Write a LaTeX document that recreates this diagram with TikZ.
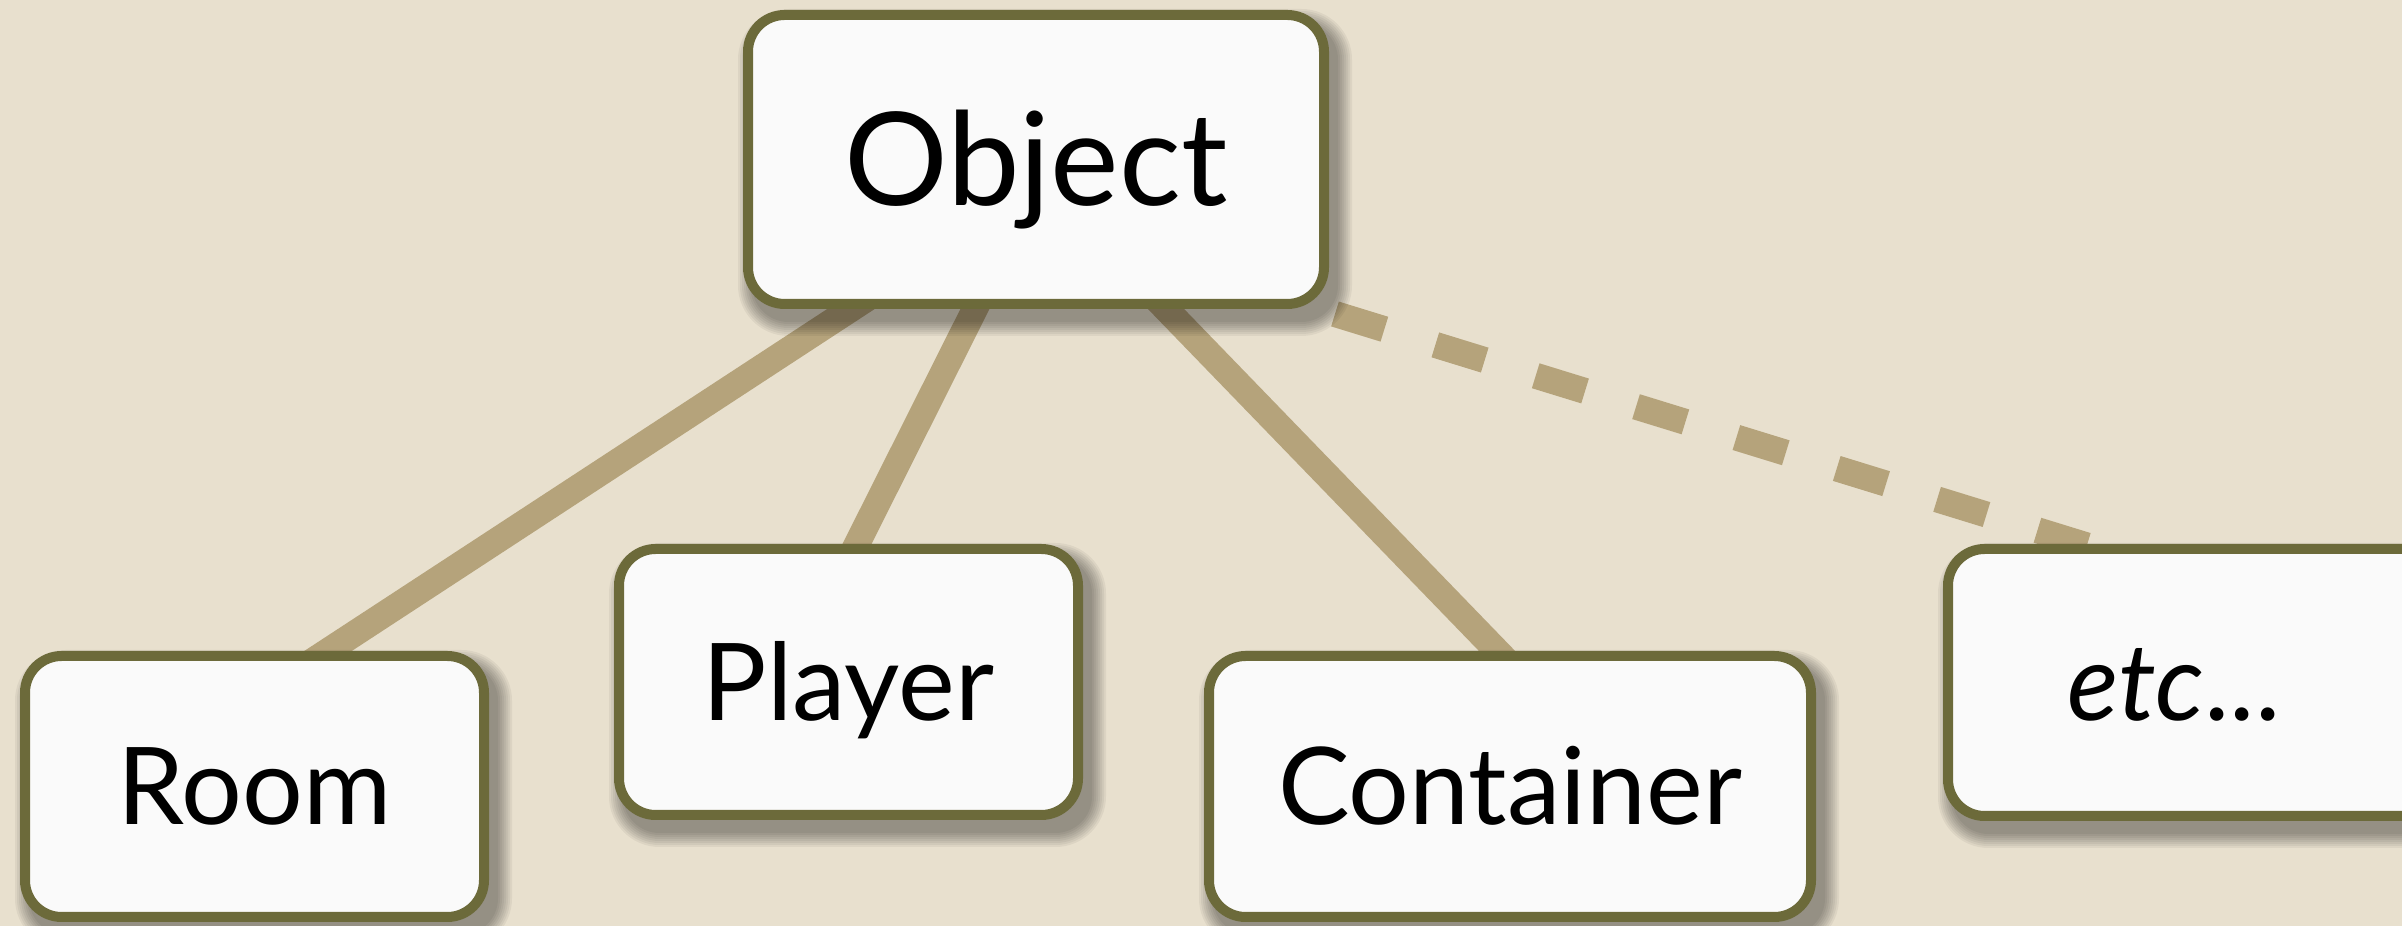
\documentclass[tikz,border=0pt]{standalone}
\usepackage{fontspec}
\setmainfont{Lato}
\usetikzlibrary{calc}
\definecolor{bgc}{RGB}{232,224,206}
\definecolor{olivec}{RGB}{108,106,58}
\definecolor{boxfillc}{RGB}{250,250,250}
\definecolor{linkc}{RGB}{181,163,123}
\pgfdeclarelayer{bg}
\pgfdeclarelayer{lines}
\pgfdeclarelayer{shade}
\pgfsetlayers{bg,lines,shade,main}
\begin{document}
\begin{tikzpicture}[x=0.3pt,y=-0.3pt,
  classbox/.style={draw=olivec, line width=3pt, fill=boxfillc, rounded corners=11pt,
    inner sep=0pt, text height=23.1pt, text depth=0pt,
    font=\fontsize{32.2pt}{36pt}\selectfont},
  shadowstep/.style={fill=black, fill opacity=0.05, draw=none},
  connector/.style={draw=linkc, line width=7.8pt},
  dashconnector/.style={connector, dash pattern=on 15.5pt off 16pt}]
\useasboundingbox (0,0) rectangle (2402,926);
\begin{pgfonlayer}{bg}
  \fill[bgc] (0,0) rectangle (2402,926);
\end{pgfonlayer}

\node[classbox, minimum width=172.8pt, minimum height=86.7pt, text height=27.9pt,
      font=\fontsize{38.9pt}{42pt}\selectfont] (obj) at (1036,159.5) {Object};
\node[classbox, minimum width=137.7pt, minimum height=78.3pt] (room) at (254.5,786.5) {Room};
\node[classbox, minimum width=137.7pt, minimum height=79.8pt] (player) at (848.5,682) {Player};
\node[classbox, minimum width=180.6pt, minimum height=78.3pt] (cont) at (1510,786.5) {Container};
\node[classbox, minimum width=147.6pt, minimum height=80.1pt] (etc) at (2194,682.5) {\kern-12pt\textit{etc}...};

\begin{pgfonlayer}{shade}
  \foreach \n in {obj,room,player,cont,etc} {
    \foreach \e in {0,2,4,6,8,10,12,14} {
      \fill[shadowstep, rounded corners={11pt+0.3pt*\e}]
        ($(\n.north west)+(9-\e,13-\e)$) rectangle ($(\n.south east)+(9+\e,13+\e)$);
    }
  }
\end{pgfonlayer}

\begin{pgfonlayer}{lines}
  \draw[connector] ($(obj.center)+(43.6,0)$) -- ($(room.center)+(-133.7,0)$);
  \draw[connector] ($(obj.center)+(14,0)$) -- ($(player.center)+(-60.8,0)$);
  \draw[connector] ($(obj.center)+(-14.7,0)$) -- ($(cont.center)+(118.2,0)$);
  \draw[dashconnector] ($(obj.south east)+(6,5)$) -- ($(etc.north west)+(204,20)$);
\end{pgfonlayer}
\end{tikzpicture}
\end{document}
